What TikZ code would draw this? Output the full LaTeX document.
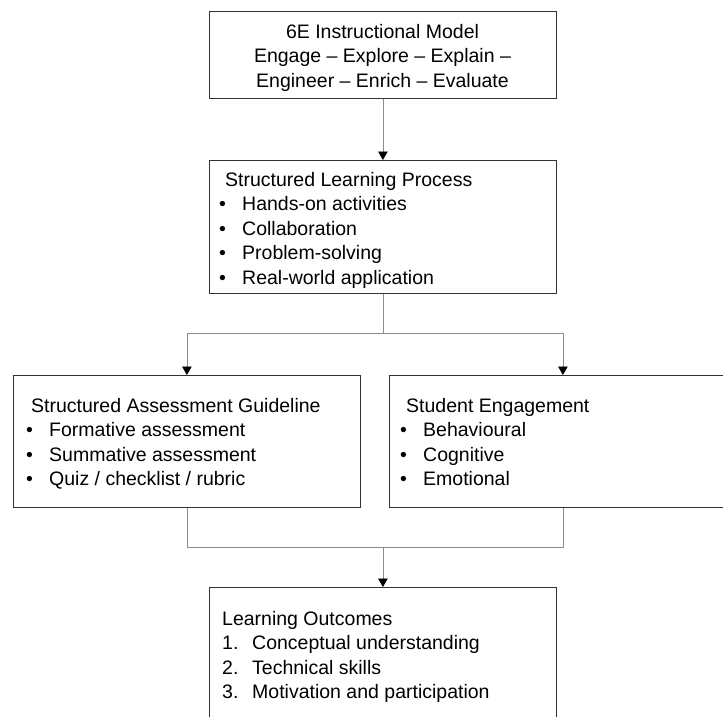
\documentclass[tikz,border=0pt]{standalone}
\usepackage{fontspec}
\setmainfont{Liberation Sans}
\usetikzlibrary{arrows.meta, calc, positioning}

\newcommand{\bitem}{\makebox[23pt][l]{\textbullet}}
\newcommand{\nitem}[1]{\makebox[30pt][l]{#1.}}

\begin{document}
\begin{tikzpicture}[x=1pt, y=-1pt,
  stage/.style={draw=black!80, line width=0.8pt, minimum width=347pt, anchor=north west, inner sep=0pt},
  link/.style={draw=black!45, line width=0.8pt},
  pointer/.style={-{Triangle[width=9.5pt,length=8.5pt,color=black]}},
  blurb/.style={anchor=base west, inner sep=0pt, font=\fontsize{19.5}{24.5}\selectfont}]

\useasboundingbox (0,0) rectangle (723,716);

% Model box
\node[stage, minimum height=87pt] (model) at (209,11) {};
\node[blurb, anchor=base] (model-text) at (382.5,38) {\begin{tabular}[t]{@{}c@{}}
  6E Instructional Model\\
  Engage – Explore – Explain –\\
  Engineer – Enrich – Evaluate
\end{tabular}};

% Learning process
\node[stage, minimum height=133pt] (process) at (209,160) {};
\node[blurb] (process-text) at (219,186) {\begin{tabular}[t]{@{}l@{}}
  \hspace*{6pt}Structured Learning Process\\
  \bitem Hands-on activities\\
  \bitem Collaboration\\
  \bitem Problem-solving\\
  \bitem Real-world application
\end{tabular}};

% Assessment and engagement
\node[stage, minimum height=132pt] (assess) at (13,375) {};
\node[blurb] (assess-text) at (26,412) {\begin{tabular}[t]{@{}l@{}}
  \hspace*{5pt}Structured Assessment Guideline\\
  \bitem Formative assessment\\
  \bitem Summative assessment\\
  \bitem Quiz / checklist / rubric
\end{tabular}};

\node[stage, minimum height=132pt] (engage) at (389,375) {};
\node[blurb] (engage-text) at (400,412) {\begin{tabular}[t]{@{}l@{}}
  \hspace*{6pt}Student Engagement\\
  \bitem Behavioural\\
  \bitem Cognitive\\
  \bitem Emotional
\end{tabular}};

% Outcomes
\node[stage, minimum height=140pt] (outcome) at (209,587) {};
\node[blurb] (outcome-text) at (222,625) {\begin{tabular}[t]{@{}l@{}}
  Learning Outcomes\\
  \nitem{1}Conceptual understanding\\
  \nitem{2}Technical skills\\
  \nitem{3}Motivation and participation
\end{tabular}};

% Connectors
\draw[link, pointer] (model) -- (process);
\coordinate (split) at ($(process.south)+(0,40)$);
\draw[link] (process.south) -- (split);
\draw[link, pointer] (split) -| (assess.north);
\draw[link, pointer] (split) -| (engage.north);

\coordinate (join) at ($(outcome.north)+(0,-40)$);
\draw[link] (assess.south) |- (join) -| (engage.south);
\draw[link, pointer] (join) -- (outcome.north);
\end{tikzpicture}
\end{document}
